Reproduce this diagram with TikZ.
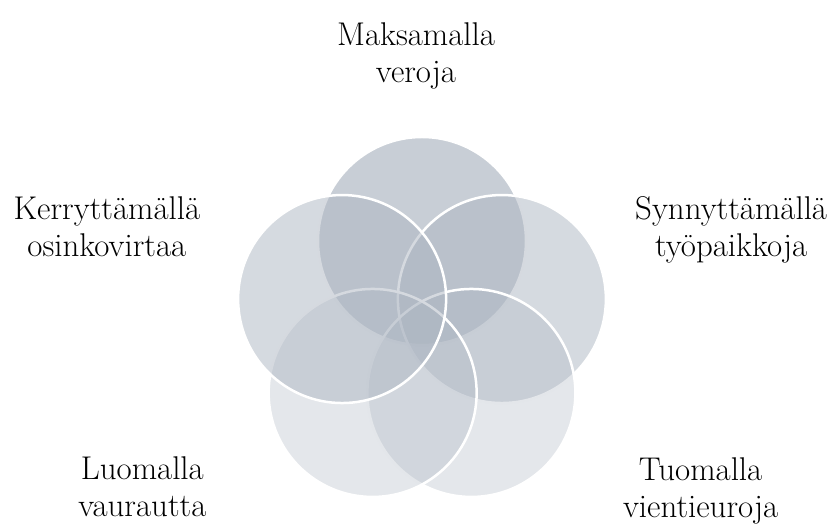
\documentclass[tikz,border=0pt]{standalone}
\usepackage{tikz}

\definecolor{slate}{RGB}{172,181,193}

\tikzset{
  venn/.style={draw=white, line width=2.5bp, circle, fill=slate, fill opacity=#1, inner sep=0pt, minimum size=208bp},
  lbl/.style={align=center, inner sep=0pt, font=\fontsize{33}{37}\selectfont}
}

\begin{document}
\begin{tikzpicture}[x=1bp, y=1bp]
    \useasboundingbox (0,0) rectangle (835,526);

    \coordinate (mid) at (422,201);

    % circles, drawn clockwise from the top
    \node[venn=0.66] (maks) at ([shift={(90:84)}]mid) {};
    \node[venn=0.5] (synn) at ([shift={(18:84)}]mid) {};
    \node[venn=0.33] (tuom) at ([shift={(-54:84)}]mid) {};
    \node[venn=0.33] (luom) at ([shift={(-126:84)}]mid) {};
    \node[venn=0.5] (kerr) at ([shift={(162:84)}]mid) {};

    % labels
    \node[lbl] (veroja) at ([xshift=-6bp, yshift=80bp]maks.north) {Maksamalla\\veroja};
    \node[lbl] (osinko) at ([xshift=-130bp, yshift=72bp]kerr.west) {Kerryttämällä\\osinkovirtaa};
    \node[lbl] (tyopaikat) at ([xshift=124bp, yshift=69bp]synn.east) {Synnyttämällä\\työpaikkoja};
    \node[lbl] (vauraus) at ([xshift=-125bp, yshift=-94bp]luom.west) {Luomalla\\vaurautta};
    \node[lbl] (vienti) at ([xshift=124bp, yshift=-98bp]tuom.east) {Tuomalla\\vientieuroja};

\end{tikzpicture}
\end{document}
